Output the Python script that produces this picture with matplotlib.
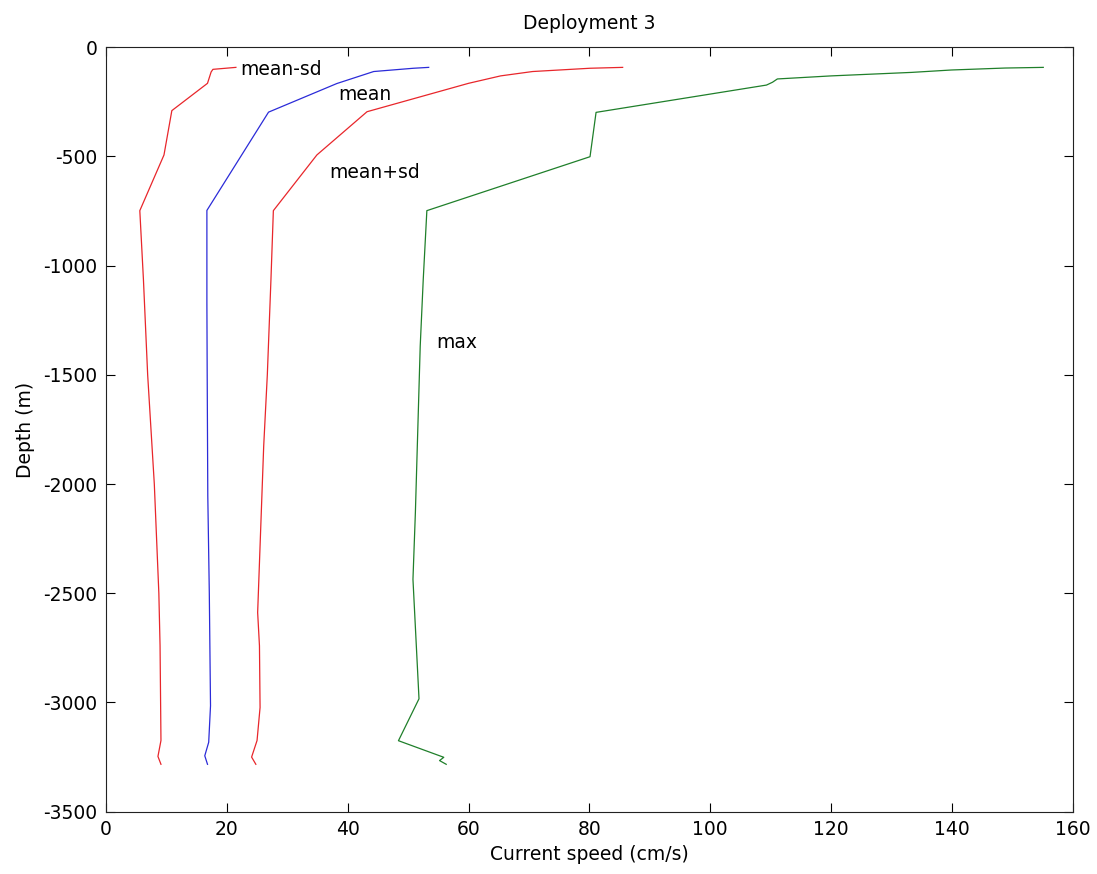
import matplotlib

matplotlib.use("Agg")
import matplotlib.pyplot as plt
import numpy as np

# Current speed profiles (cm/s) against depth (m), deployment 3
sd_lo_depth = [-92, -101, -113, -165, -290, -493, -748, -1064, -1500, -2000, -2500, -2740, -3174, -3247, -3283]
sd_lo_speed = [21.5, 17.7, 17.4, 16.8, 10.9, 9.6, 5.6, 6.2, 6.9, 8.0, 8.75, 8.95, 9.1, 8.6, 9.1]

mean_depth = [-92, -96, -111, -166, -297, -500, -747, -1170, -1500, -2055, -2500, -3015, -3182, -3244, -3283]
mean_speed = [53.4, 50.9, 44.3, 38.2, 26.9, 22.3, 16.7, 16.7, 16.75, 16.85, 17.1, 17.3, 17.0, 16.35, 16.8]

sd_hi_depth = [-92, -96, -111, -131, -165, -295, -493, -748, -1064, -1500, -1826, -2588, -2741, -3023, -3174, -3250, -3283]
sd_hi_speed = [85.5, 80.1, 70.6, 65.3, 60.0, 43.2, 34.9, 27.7, 27.3, 26.7, 26.1, 25.1, 25.4, 25.5, 25.0, 24.1, 24.8]

max_depth = [-92, -95, -104, -115, -131, -145, -160, -173, -298, -501, -748, -1064, -1369, -2131,
             -2436, -2983, -3175, -3251, -3266, -3283]
max_speed = [155.1, 148.8, 139.9, 133.3, 120.0, 111.1, 110.3, 109.3, 81.1, 80.1, 53.1, 52.5, 52.0, 51.2,
             50.8, 51.8, 48.4, 55.9, 55.2, 56.3]

# curve labels: (text, speed, depth)
label_text = ["mean-sd", "mean", "mean+sd", "max"]
label_x = [22.3, 38.5, 37.0, 54.7]
label_y = [-100, -218, -574, -1352]

x_ticks = np.arange(0, 161, 20)
y_ticks = np.arange(-3500, 1, 500)

plt.rcParams.update(
    {
        "font.family": "DejaVu Sans",
        "font.size": 13.5,
        "axes.linewidth": 0.8,
        "axes.edgecolor": "#222222",
        "axes.unicode_minus": False,
    }
)

fig = plt.figure(figsize=(10.97, 8.74), dpi=100)
ax = fig.add_axes([0.0966, 0.0713, 0.978 - 0.0966, 0.9459 - 0.0713])

ax.plot(sd_lo_speed, sd_lo_depth, color="#e8262b", linewidth=0.9)
ax.plot(mean_speed, mean_depth, color="#2b2bd8", linewidth=0.9)
ax.plot(sd_hi_speed, sd_hi_depth, color="#e8262b", linewidth=0.9)
ax.plot(max_speed, max_depth, color="#1f7f2a", linewidth=0.9)

for text, x, y in zip(label_text, label_x, label_y):
    ax.text(x, y, text, ha="left", va="center", fontsize=13.5)

ax.set_xlim(0, 160)
ax.set_ylim(-3500, 0)
ax.set_xticks(x_ticks)
ax.set_yticks(y_ticks)
ax.tick_params(axis="both", direction="in", length=6.5, width=0.8, top=True, right=True, pad=6)

ax.set_title("Deployment 3", fontsize=13.5, pad=13)
ax.set_xlabel("Current speed (cm/s)", labelpad=4)
ax.set_ylabel("Depth (m)", labelpad=6)

fig.savefig("out.png", dpi=100)
plt.close(fig)
